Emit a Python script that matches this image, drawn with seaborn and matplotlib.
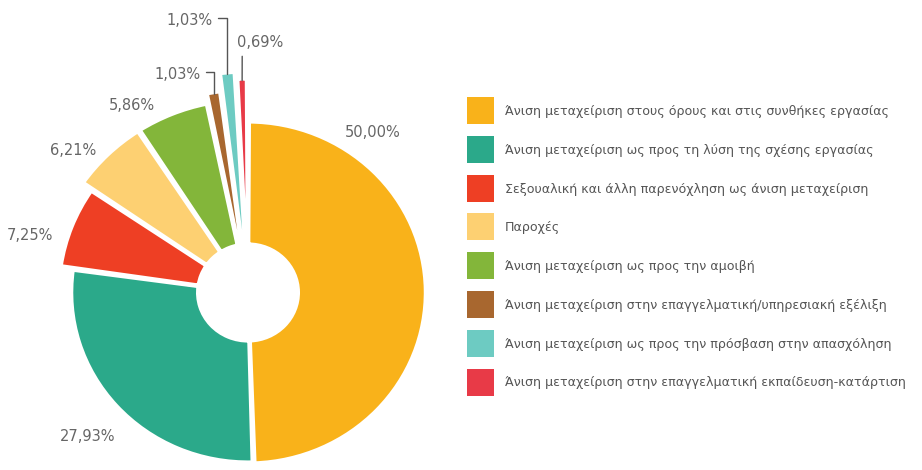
import matplotlib
matplotlib.use("Agg")
import matplotlib.pyplot as plt
import numpy as np
import seaborn as sns
from matplotlib.patches import Patch, Rectangle
from matplotlib.legend_handler import HandlerPatch

categories = [
    "Άνιση μεταχείριση στους όρους και στις συνθήκες εργασίας",
    "Άνιση μεταχείριση ως προς τη λύση της σχέσης εργασίας",
    "Σεξουαλική και άλλη παρενόχληση ως άνιση μεταχείριση",
    "Παροχές",
    "Άνιση μεταχείριση ως προς την αμοιβή",
    "Άνιση μεταχείριση στην επαγγελματική/υπηρεσιακή εξέλιξη",
    "Άνιση μεταχείριση ως προς την πρόσβαση στην απασχόληση",
    "Άνιση μεταχείριση στην επαγγελματική εκπαίδευση-κατάρτιση",
]
shares = [50.00, 27.93, 7.25, 6.21, 5.86, 1.03, 1.03, 0.69]
value_labels = ["50,00%", "27,93%", "7,25%", "6,21%", "5,86%", "1,03%", "1,03%", "0,69%"]

colors = ["#F9B21A", "#2BA98A", "#EE3F24", "#FDD072", "#83B63A", "#A8672F", "#6DCBC2", "#E83A47"]

# layout (radial units ~ pixels)
inner_r = 48
outer_r = [171, 170, 182, 193, 193, 203, 221, 214]
pad_deg = 0.6
# label positions: (angle clockwise from north in degrees, radius)
label_pos = [(37.0, 200), (226.8, 211), (285.3, 217), (310.3, 220), (329.3, 218),
             (342.8, 228), (348.4, 278), (2.6, 250)]

sns.set_theme(style="white")
plt.rcParams["font.family"] = ["DejaVu Sans"]

fig = plt.figure(figsize=(9.22, 4.70), dpi=100)
rmax = 225
stretch = 1.04
cx, cy = 248, 470 - 292.5
ax = fig.add_axes([(cx - rmax * stretch) / 922, (cy - rmax) / 470,
                   2 * rmax * stretch / 922, 2 * rmax / 470], projection="polar")
ax.set_aspect("auto")
ax.set_theta_zero_location("N")
ax.set_theta_direction(-1)

vals = np.array(shares)
pad = np.deg2rad(pad_deg)
widths = vals / vals.sum() * (2 * np.pi - len(vals) * pad)
starts = np.concatenate([[0], np.cumsum(widths + pad)[:-1]]) + pad / 2
mids = starts + widths / 2

ax.bar(mids, np.array(outer_r) - inner_r, width=widths, bottom=inner_r,
       color=colors, edgecolor="white", linewidth=3.0, align="center")
ax.set_ylim(0, rmax)
ax.set_axis_off()

txt_kw = dict(fontsize=10.5, color="#666666", ha="center", va="center")
line_kw = dict(arrowstyle="-", color="#555555", lw=1, shrinkB=0)
for i, lab in enumerate(value_labels):
    th, r = label_pos[i]
    th = np.deg2rad(th)
    if i in (5, 6):
        ax.annotate(lab, xy=(mids[i], outer_r[i] - 2), xytext=(th, r),
                    arrowprops=dict(connectionstyle="angle,angleA=0,angleB=90,rad=0",
                                    relpos=(1.0, 0.65), shrinkA=1, **line_kw),
                    **txt_kw)
    elif i == 7:
        ax.annotate(lab, xy=(mids[i], outer_r[i] - 2), xytext=(th, r),
                    arrowprops=dict(relpos=(0.12, 0.0), shrinkA=2, **line_kw),
                    **txt_kw)
    else:
        ax.text(th, r, lab, **txt_kw)


sq = 27 * 72 / 100  # legend square side in points


def square(legend, orig_handle, xdescent, ydescent, width, height, fontsize):
    return Rectangle((-xdescent, -ydescent + height / 2 - sq / 2), sq, sq)


handles = [Patch(facecolor=c, edgecolor="none") for c in colors]
fs = 9.1
fig.legend(handles, categories, loc="upper left",
           bbox_to_anchor=(467 / 922, 1 - 105 / 470), frameon=False,
           fontsize=fs, labelcolor="#555555",
           handler_map={Patch: HandlerPatch(patch_func=square)},
           handlelength=sq / fs, handleheight=0.7,
           labelspacing=2.04, handletextpad=11 * 0.72 / fs,
           borderpad=0, borderaxespad=0)

fig.savefig("out.png", dpi=100)
